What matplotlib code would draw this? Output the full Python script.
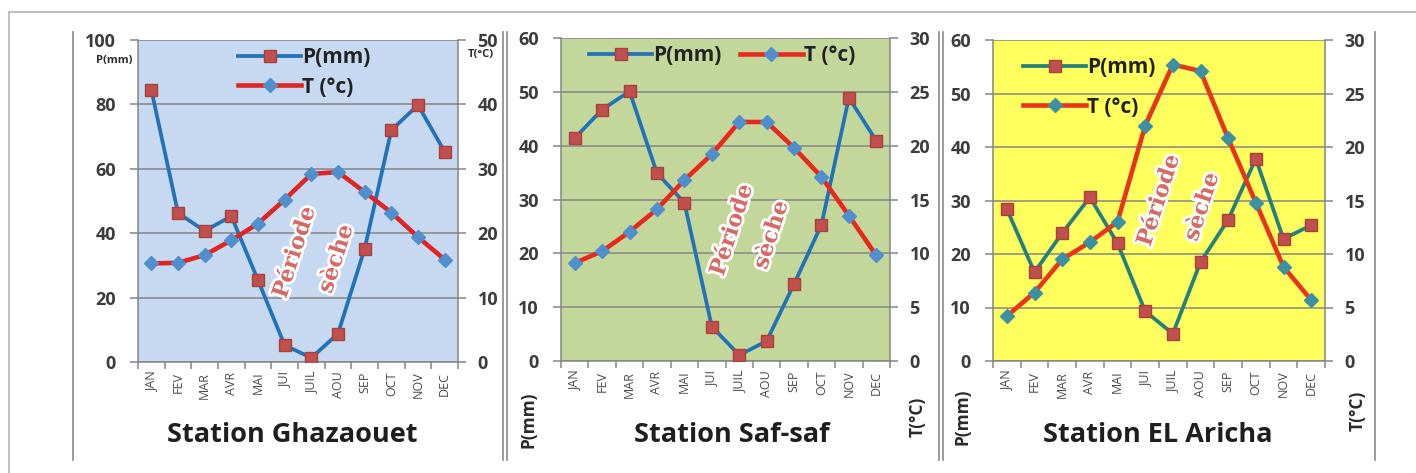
import matplotlib.pyplot as plt
import matplotlib.patheffects as pe
from matplotlib.lines import Line2D

plt.rcParams['font.family'] = ['Open Sans', 'DejaVu Sans']

W, H = 1416, 473

mois = ['JAN', 'FEV', 'MAR', 'AVR', 'MAI', 'JUI', 'JUIL', 'AOU', 'SEP', 'OCT', 'NOV', 'DEC']

# Station Ghazaouet
p_ghazaouet = [84.5, 46.3, 40.7, 45.3, 25.4, 5.2, 1.3, 8.8, 35.2, 72.0, 79.8, 65.3]
t_ghazaouet = [15.3, 15.4, 16.6, 18.9, 21.5, 25.2, 29.2, 29.5, 26.4, 23.2, 19.4, 15.9]

# Station Saf-saf
p_safsaf = [41.4, 46.7, 50.1, 34.9, 29.4, 6.4, 1.1, 3.7, 14.3, 25.3, 48.9, 40.9]
t_safsaf = [9.1, 10.2, 12.0, 14.1, 16.8, 19.2, 22.2, 22.2, 19.8, 17.1, 13.5, 9.8]

# Station El Aricha
p_aricha = [28.4, 16.6, 23.9, 30.6, 22.0, 9.3, 5.1, 18.5, 26.4, 37.8, 22.8, 25.4]
t_aricha = [4.2, 6.4, 9.5, 11.1, 13.0, 22.0, 27.7, 27.1, 20.8, 14.8, 8.8, 5.7]


def px(x, y):
    """pixel (from top-left) -> figure fraction"""
    return x / W, 1 - y / H


def rect(x0, y0, x1, y1):
    return [x0 / W, 1 - y1 / H, (x1 - x0) / W, (y1 - y0) / H]


def station(fig, box, p, t, pmax, pstep, tmax, tstep, bg, pcol, tcol, dcol,
            legend_kw, sec_pos):
    ax = fig.add_axes(box)
    ax.set_facecolor(bg)
    x = list(range(len(mois)))

    ax.set_xlim(-0.5, len(mois) - 0.5)
    ax.set_ylim(0, pmax)
    ax.set_yticks(range(0, pmax + 1, pstep))
    ax.yaxis.grid(True, color='#858585', lw=1.1)
    ax.set_axisbelow(True)
    ax.set_xticks(x)
    ax.set_xticklabels(mois, rotation=90, fontsize=9, color='#4a4a4a')
    ax.set_xticks([i - 0.5 for i in range(len(mois) + 1)], minor=True)
    ax.tick_params(axis='x', which='major', length=0, pad=7)
    ax.tick_params(axis='x', which='minor', length=5, color='#858585', width=1.1)
    ax.tick_params(axis='y', length=6, color='#858585', width=1.1, pad=10,
                   labelsize=13, labelcolor='#3c3c3c')
    for lab in ax.get_yticklabels():
        lab.set_fontweight('bold')
    for s in ['top', 'right']:
        ax.spines[s].set_visible(False)
    for s in ['left', 'bottom']:
        ax.spines[s].set_color('#858585')
        ax.spines[s].set_linewidth(1.1)

    ax2 = ax.twinx()
    ax2.set_ylim(0, tmax)
    ax2.set_yticks(range(0, tmax + 1, tstep))
    ax2.tick_params(axis='y', length=6, color='#858585', width=1.1, pad=8,
                    labelsize=13, labelcolor='#3c3c3c')
    for lab in ax2.get_yticklabels():
        lab.set_fontweight('bold')
    for s in ['top', 'left', 'bottom']:
        ax2.spines[s].set_visible(False)
    ax2.spines['right'].set_color('#858585')
    ax2.spines['right'].set_linewidth(1.1)

    lp, = ax.plot(x, p, color=pcol, lw=2.7, marker='s', ms=8.5,
                  mfc='#c0504d', mec='#a8403d', zorder=3, label='P(mm)')
    lt, = ax2.plot(x, t, color=tcol, lw=3.3, marker='D', ms=7.5,
                   mfc=dcol, mec=dcol, zorder=3, label='T (°c)')

    leg = ax2.legend(handles=[lp, lt], frameon=False, handlelength=3.0,
                     prop={'weight': 'bold', 'size': 15}, handletextpad=0.05,
                     borderaxespad=0.1, **legend_kw)
    for txt in leg.get_texts():
        txt.set_color('#222222')

    # "Période sèche" annotation
    deco = [pe.withStroke(linewidth=4, foreground='white')]
    (x1, y1), (x2, y2) = sec_pos
    for (xx, yy), word in [((x1, y1), 'Période'), ((x2, y2), 'sèche')]:
        ax2.text(xx, yy, word, transform=ax2.transAxes, rotation=72,
                 ha='center', va='center', family='DejaVu Serif',
                 fontweight='bold', fontsize=16, color='#d66a66',
                 path_effects=deco, zorder=5)
    return ax, ax2


fig = plt.figure(figsize=(W / 100, H / 100), dpi=100)

# outer frame and separators
frame_kw = dict(transform=fig.transFigure, color='#c0c0c0', lw=1.5)
fig.add_artist(Line2D([9 / W, 1], [1 - 12 / H] * 2, **frame_kw))
fig.add_artist(Line2D([9 / W] * 2, [1 - 12 / H, 0], **frame_kw))
sep_kw = dict(transform=fig.transFigure, color='#8a8a8a', lw=1.2)
for xs in [73, 503, 507, 939, 943, 1375]:
    fig.add_artist(Line2D([xs / W] * 2, [1 - 32 / H, 1 - 460 / H], **sep_kw))

station(fig, rect(138, 40, 458, 362), p_ghazaouet, t_ghazaouet,
        100, 20, 50, 10, '#c6d9f0', '#2272b8', '#e02424', '#4f8fcc',
        dict(loc='upper center', bbox_to_anchor=(0.52, 1.01), ncol=1,
             labelspacing=0.4),
        [(0.49, 0.34), (0.62, 0.32)])

station(fig, rect(561, 38, 890, 361), p_safsaf, t_safsaf,
        60, 10, 30, 5, '#c4d79b', '#2272b8', '#e8281c', '#4f8fcc',
        dict(loc='upper center', bbox_to_anchor=(0.49, 1.01), ncol=2,
             columnspacing=0.9),
        [(0.52, 0.405), (0.64, 0.39)])

station(fig, rect(993, 40, 1325, 361), p_aricha, t_aricha,
        60, 10, 30, 5, '#ffff5e', '#23807e', '#e8341c', '#3d8fa3',
        dict(loc='upper left', bbox_to_anchor=(0.06, 0.98), ncol=1,
             labelspacing=0.9),
        [(0.50, 0.50), (0.63, 0.48)])

# titles
title_kw = dict(ha='center', va='center', fontsize=19.5, fontweight='bold',
                color='#1e1e1e')
fig.text(*px(292, 435), 'Station Ghazaouet', **title_kw)
fig.text(*px(732, 435), 'Station Saf-saf', **title_kw)
fig.text(*px(1158, 435), 'Station EL Aricha', **title_kw)

# axis units
small = dict(ha='center', va='center', fontweight='bold', color='#2a2a2a')
fig.text(*px(114, 60), 'P(mm)', fontsize=8, **small)
fig.text(*px(481, 55), 'T(°C)', fontsize=8, **small)
fig.text(*px(528, 420), 'P(mm)', fontsize=12.5, rotation=90, **small)
fig.text(*px(918, 417), 'T(°C)', fontsize=12.5, rotation=90, **small)
fig.text(*px(963, 417), 'P(mm)', fontsize=12.5, rotation=90, **small)
fig.text(*px(1358, 411), 'T(°C)', fontsize=12.5, rotation=90, **small)

fig.savefig('out.png', dpi=100, facecolor='white')
